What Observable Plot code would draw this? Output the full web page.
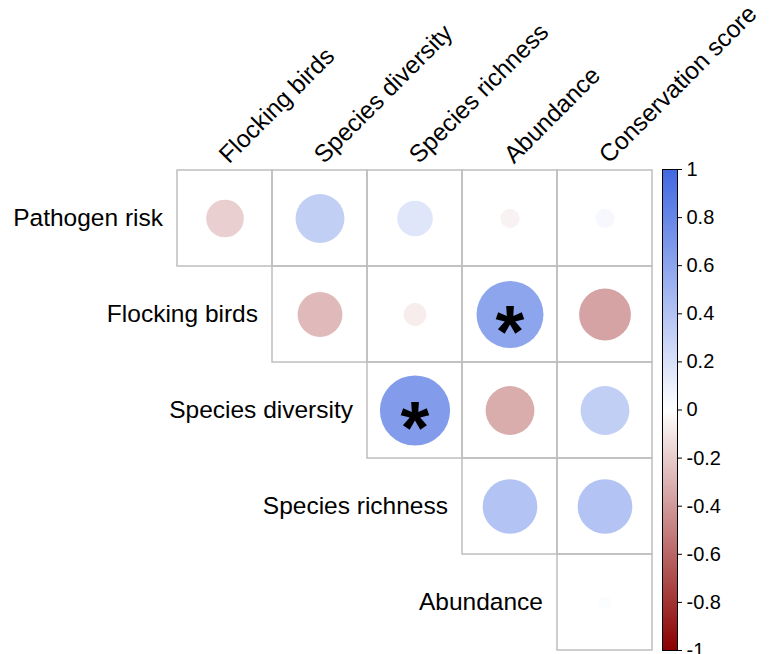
<!DOCTYPE html>
<html>
<head>
<meta charset="utf-8">
<script src="https://cdn.jsdelivr.net/npm/d3@7"></script>
<script src="https://cdn.jsdelivr.net/npm/@observablehq/plot@0.6"></script>
<style>
  body { margin: 0; background: #fff; }
  #chart { position: relative; width: 773px; height: 654px; overflow: hidden; }
  #chart svg { position: absolute; left: 0; top: 0; }
</style>
</head>
<body>
<div id="chart"></div>
<script>
// Row and column variables of the correlation matrix (upper triangle)
const rowNames = ["Pathogen risk", "Flocking birds", "Species diversity", "Species richness", "Abundance"];
const colNames = ["Flocking birds", "Species diversity", "Species richness", "Abundance", "Conservation score"];

// Correlations, row by row, starting at the diagonal column
const rPathogen  = [-0.19, 0.32, 0.17, -0.05, 0.05];
const rFlocking  = [-0.27, -0.07, 0.60, -0.36];
const rDiversity = [0.66, -0.32, 0.32];
const rRichness  = [0.40, 0.40];
const rAbundance = [0.02];

// Significant pairs (marked with *)
const significant = [["Flocking birds", "Abundance"], ["Species diversity", "Species richness"]];

// Colour-bar ticks
const colorTicks = [1, 0.8, 0.6, 0.4, 0.2, 0, -0.2, -0.4, -0.6, -0.8, -1];

const rowValues = [rPathogen, rFlocking, rDiversity, rRichness, rAbundance];
const cells = [];
rowValues.forEach((vals, i) => {
  vals.forEach((v, k) => {
    const row = rowNames[i], col = colNames[i + k];
    cells.push({row, col, value: v, sig: significant.some(([a, b]) => a === row && b === col)});
  });
});

const font = "'Liberation Sans', Arial, Helvetica, sans-serif";
const colorScale = {type: "linear", domain: [-1, 0, 1], range: ["#8B0000", "#FFFFFF", "#4169E1"], interpolate: "rgb"};

const main = Plot.plot({
  width: 773, height: 654,
  marginLeft: 175, marginRight: 119, marginTop: 169, marginBottom: 4,
  x: {domain: colNames, padding: 0, axis: null},
  y: {domain: rowNames, padding: 0, axis: null},
  color: colorScale,
  r: {type: "sqrt", domain: [0, 1], range: [0, 43.2]},
  style: {fontFamily: font, fontSize: "24px", background: "white"},
  marks: [
    Plot.cell(cells, {x: "col", y: "row", fill: "none", stroke: "#bebebe", strokeWidth: 1.5, inset: 0}),
    Plot.dot(cells, {x: "col", y: "row", r: d => Math.abs(d.value), fill: "value", stroke: "none"}),
    Plot.text(cells.filter(d => d.sig), {x: "col", y: "row", text: () => "*", fontSize: 74, fontWeight: "bold", fill: "black", dy: 19}),
    Plot.text(rowNames, {x: (d, i) => colNames[i], y: d => d, text: d => d, textAnchor: "end", dx: -62, fontSize: 24.5, fill: "black"}),
    Plot.text(colNames, {x: d => d, y: () => rowNames[0], text: d => d, textAnchor: "start", lineAnchor: "bottom", rotate: -45, dx: 4, dy: -54, fontSize: 24.5, fill: "black"})
  ]
});

const bar = Plot.plot({
  width: 773, height: 654,
  marginLeft: 662, marginRight: 96, marginTop: 169, marginBottom: 4,
  x: {domain: [0, 1], axis: null},
  y: {domain: [-1, 1], axis: null},
  color: colorScale,
  style: {fontFamily: font, fontSize: "20px", background: "transparent"},
  marks: [
    Plot.raster({x1: 0, x2: 1, y1: -1, y2: 1, width: 1, height: 481, fill: (x, y) => y}),
    Plot.frame({stroke: "black", strokeWidth: 1}),
    Plot.axisY(colorTicks, {anchor: "right", tickSize: 4, tickPadding: 5, label: null, fontSize: 20, stroke: "black", tickFormat: d => String(+d.toFixed(2))})
  ]
});
bar.style.pointerEvents = "none";

const chart = document.getElementById("chart");
chart.appendChild(main);
chart.appendChild(bar);
</script>
</body>
</html>
